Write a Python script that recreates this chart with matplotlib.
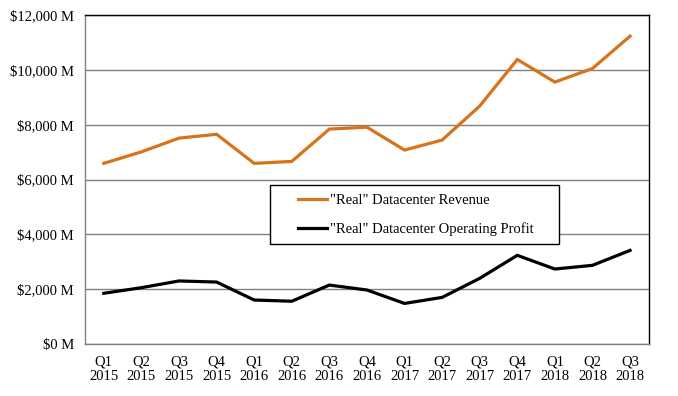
import matplotlib
matplotlib.use("Agg")
import matplotlib.pyplot as plt
from matplotlib.ticker import FuncFormatter
from matplotlib.patches import Rectangle

quarters = ["Q1\n2015", "Q2\n2015", "Q3\n2015", "Q4\n2015",
            "Q1\n2016", "Q2\n2016", "Q3\n2016", "Q4\n2016",
            "Q1\n2017", "Q2\n2017", "Q3\n2017", "Q4\n2017",
            "Q1\n2018", "Q2\n2018", "Q3\n2018"]
revenue = [6590, 7010, 7510, 7650, 6590, 6660, 7840, 7910,
           7075, 7440, 8680, 10380, 9555, 10050, 11230]
profit = [1850, 2055, 2300, 2260, 1605, 1560, 2150, 1970,
          1480, 1700, 2395, 3235, 2735, 2870, 3415]
yticks = [0, 2000, 4000, 6000, 8000, 10000, 12000]

plt.rcParams['font.family'] = ['Liberation Serif', 'DejaVu Serif']

fig = plt.figure(figsize=(6.78, 3.96), dpi=100)
ax = fig.add_axes([0.1254, 0.1313, 0.8316, 0.8307])

x = list(range(len(quarters)))
ax.plot(x, revenue, color='#D8731C', lw=2.3, label='"Real" Datacenter Revenue', solid_joinstyle='miter')
ax.plot(x, profit, color='black', lw=2.3, label='"Real" Datacenter Operating Profit', solid_joinstyle='miter')

ax.set_xlim(-0.5, len(quarters) - 0.5)
ax.set_ylim(0, 12000)
ax.set_yticks(yticks)
ax.yaxis.set_major_formatter(FuncFormatter(lambda v, p: f"${v:,.0f} M"))
ax.set_xticks(x)
ax.set_xticklabels(quarters)
ax.tick_params(axis='both', length=0, labelsize=10.5, colors='black')
ax.tick_params(axis='x', pad=8)
ax.tick_params(axis='y', pad=8)
ax.grid(axis='y', color='#808080', lw=1)
ax.set_axisbelow(True)

for s in ['top', 'right']:
    ax.spines[s].set_color('black')
    ax.spines[s].set_linewidth(1)
for s in ['left', 'bottom']:
    ax.spines[s].set_color('#808080')
    ax.spines[s].set_linewidth(1)

# legend frame
ax.add_patch(Rectangle((0.328, 0.304), 0.513, 0.179, transform=ax.transAxes,
                       facecolor='white', edgecolor='black', lw=1, zorder=4))
leg = ax.legend(loc='upper left', bbox_to_anchor=(298 / 678, (396 - 194) / 396),
                bbox_transform=fig.transFigure, fontsize=10.5,
                frameon=False, handlelength=2.0, labelspacing=1.05, borderpad=0,
                handletextpad=0.2, borderaxespad=0)
leg.set_zorder(5)

fig.savefig("out.png", dpi=100)
